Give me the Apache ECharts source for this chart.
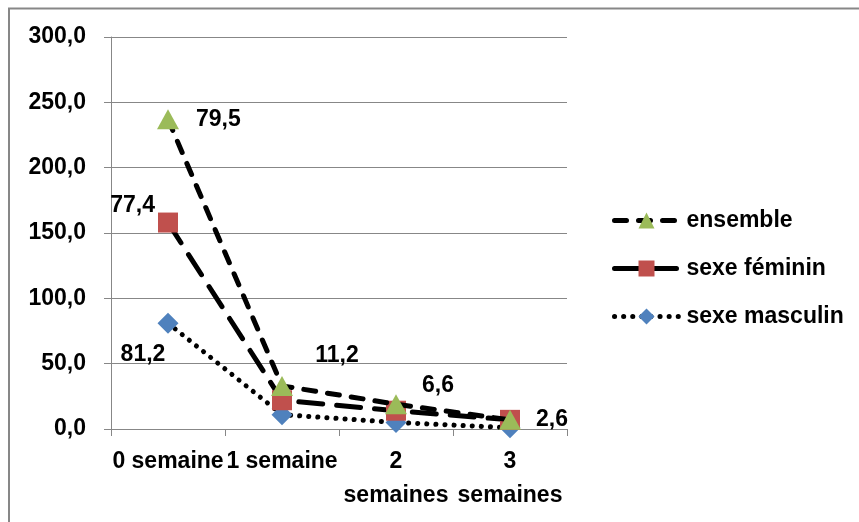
<!DOCTYPE html>
<html>
<head>
<meta charset="utf-8">
<script src="https://cdn.jsdelivr.net/npm/echarts@6/dist/echarts.min.js"></script>
<style>
html,body{margin:0;padding:0;background:#fff;}
#chart{width:859px;height:522px;}
</style>
</head>
<body>
<div id="chart"></div>
<script>
// ---- Data ----
const categories = ['0 semaine', '1 semaine', '2\nsemaines', '3\nsemaines'];
const ensemble = [237, 33, 19, 7];
const feminin = [158, 22, 14, 7];
const masculin = [81, 11, 5, 1];
const ensembleLabels = ['79,5', '11,2', '6,6', '2,6'];
const femininLabels = ['77,4', '', '', ''];
const masculinLabels = ['81,2', '', '', ''];
const yTicks = [0, 50, 100, 150, 200, 250, 300];

// ---- Styles ----
const FONT = '"Liberation Sans", Arial, sans-serif';
const FS = 23;
const GRAY = '#878787';
const ensembleOffsets = [[0, 0], [55, -30], [42, -19], [42, 0]];
const ensemblePos = ['right', 'inside', 'inside', 'inside'];

function labelStyle(extra) {
  return Object.assign({
    show: true, fontFamily: FONT, fontSize: FS, fontWeight: 'bold', color: '#000'
  }, extra);
}

function buildData(values, labels, posFn) {
  return values.map((v, i) => {
    const d = { value: v };
    if (labels[i]) d.label = labelStyle(Object.assign({ formatter: labels[i] }, posFn(i)));
    else d.label = { show: false };
    return d;
  });
}

const chart = echarts.init(document.getElementById('chart'), null, { renderer: 'canvas' });

const option = {
  animation: false,
  backgroundColor: '#fff',
  graphic: [{
    type: 'rect',
    shape: { x: 9, y: 8.5, width: 1000, height: 1000 },
    style: { fill: 'none', stroke: GRAY, lineWidth: 2 },
    silent: true
  }],
  grid: { left: 111, right: 292, top: 37, bottom: 93 },
  legend: {
    orient: 'vertical',
    left: 607,
    top: 204,
    itemWidth: 64,
    itemHeight: 20,
    itemGap: 25,
    lineStyle: { width: 5, cap: 'round' },
    data: ['ensemble', 'sexe féminin', 'sexe masculin'],
    textStyle: { fontFamily: FONT, fontSize: FS, fontWeight: 'bold', color: '#000', padding: [0, 0, 0, 3] }
  },
  xAxis: {
    type: 'category',
    data: categories,
    boundaryGap: true,
    axisLine: { lineStyle: { color: GRAY, width: 1 } },
    axisTick: { show: true, length: 7, lineStyle: { color: GRAY } },
    axisLabel: { fontFamily: FONT, fontSize: FS, fontWeight: 'bold', color: '#000', margin: 16, lineHeight: 34, interval: 0 },
    splitLine: { show: false }
  },
  yAxis: {
    type: 'value',
    min: yTicks[0],
    max: yTicks[yTicks.length - 1],
    interval: yTicks[1] - yTicks[0],
    axisLine: { show: true, lineStyle: { color: GRAY, width: 1 } },
    axisTick: { show: true, length: 7, lineStyle: { color: GRAY } },
    axisLabel: {
      fontFamily: FONT, fontSize: FS, fontWeight: 'bold', color: '#000', margin: 25,
      formatter: v => v.toFixed(1).replace('.', ',')
    },
    splitLine: { show: true, lineStyle: { color: GRAY, width: 1 } }
  },
  series: [
    {
      name: 'sexe masculin',
      type: 'line',
      data: buildData(masculin, masculinLabels, i => ({ position: 'inside', offset: [-25, 31] })),
      symbol: 'diamond',
      symbolSize: [21, 21],
      itemStyle: { color: '#4F81BD' },
      lineStyle: { color: '#000', width: 5, type: [0.1, 9], cap: 'round' },
      z: 2
    },
    {
      name: 'sexe féminin',
      type: 'line',
      data: buildData(feminin, femininLabels, i => ({ position: 'left', distance: 3, offset: [0, -17] })),
      symbol: 'rect',
      symbolSize: [20, 20],
      itemStyle: { color: '#C0504D' },
      lineStyle: { color: '#000', width: 5, type: [24, 14], cap: 'round' },
      z: 3
    },
    {
      name: 'ensemble',
      type: 'line',
      data: buildData(ensemble, ensembleLabels, i => ({ position: ensemblePos[i], distance: 17, offset: ensembleOffsets[i] })),
      symbol: 'triangle',
      symbolSize: [22, 20],
      itemStyle: { color: '#9BBB59' },
      lineStyle: { color: '#000', width: 5, type: [12, 12], cap: 'round' },
      z: 4
    }
  ]
};
chart.setOption(option);
</script>
</body>
</html>
